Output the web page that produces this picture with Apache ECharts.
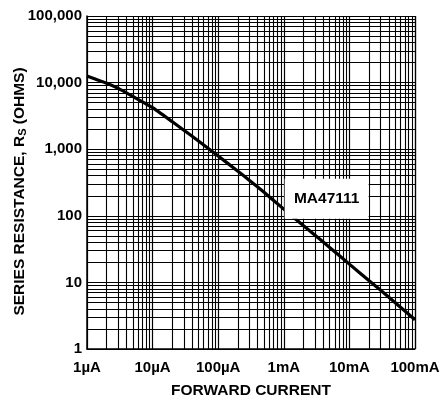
<!DOCTYPE html>
<html>
<head>
<meta charset="utf-8">
<script src="https://cdn.jsdelivr.net/npm/echarts@6/dist/echarts.min.js"></script>
<style>
html,body{margin:0;padding:0;background:#fff;}
#main{width:445px;height:398px;}
</style>
</head>
<body>
<div id="main"></div>
<script>
// forward current (A) vs series resistance (ohms)
var current = [1e-6, 2e-6, 3e-6, 5e-6, 1e-5, 2e-5, 3e-5, 5e-5, 1e-4, 2e-4, 3e-4, 5e-4,
               1e-3, 2e-3, 3e-3, 5e-3, 1e-2, 2e-2, 3e-2, 5e-2, 1e-1];
var resistance = [12600, 9800, 8200, 6200, 4200, 2580, 1930, 1330, 790, 467, 340, 226,
                  126, 71, 51, 33.5, 18.8, 10.6, 7.6, 4.95, 2.75];
var xTickLabels = ['1µA', '10µA', '100µA', '1mA', '10mA', '100mA'];
var yTickLabels = ['1', '10', '100', '1,000', '10,000', '100,000'];
var xDecades = [-6, -1];   // 1µA .. 100mA
var yDecades = [0, 5];     // 1 .. 100,000
var partName = 'MA47111';
var partPos = [4.5e-3, 180];

var FONT = '"Liberation Sans", Arial, Helvetica, sans-serif';

// log paper: lines at 2..9 in every decade
function minors(lo, hi) {
    var out = [];
    for (var d = lo; d < hi; d++) {
        for (var k = 2; k <= 9; k++) out.push(k * Math.pow(10, d));
    }
    return out;
}
var yMin = Math.pow(10, yDecades[0]), yMax = Math.pow(10, yDecades[1]);
var xMin = Math.pow(10, xDecades[0]), xMax = Math.pow(10, xDecades[1]);
var gridLines = [];
minors(xDecades[0], xDecades[1]).forEach(function (v) {
    gridLines.push({coords: [[v, yMin], [v, yMax]]});
});
minors(yDecades[0], yDecades[1]).forEach(function (v) {
    gridLines.push({coords: [[xMin, v], [xMax, v]]});
});

var labelStyle = {fontFamily: FONT, fontWeight: 'bold', fontSize: 15, color: '#000'};

var myChart = echarts.init(document.getElementById('main'));
var option = {
    animation: false,
    grid: {left: 87, right: 30, top: 16, bottom: 49, containLabel: false, outerBoundsMode: 'none'},
    xAxis: {
        type: 'log', logBase: 10, min: xMin, max: xMax,
        name: 'FORWARD CURRENT', nameLocation: 'middle', nameGap: 34, nameMoveOverlap: false,
        nameTextStyle: {fontFamily: FONT, fontWeight: 'bold', fontSize: 15.5, color: '#000'},
        axisLine: {lineStyle: {color: '#000', width: 1.5}},
        axisTick: {show: false},
        splitLine: {show: true, lineStyle: {color: '#000', width: 1.2}},
        axisLabel: Object.assign({
            margin: 11,
            formatter: function (v) {
                return xTickLabels[Math.round(Math.log10(v)) - xDecades[0]];
            }
        }, labelStyle)
    },
    yAxis: {
        type: 'log', logBase: 10, min: yMin, max: yMax,
        name: 'SERIES RESISTANCE, R{s|S} (OHMS)', nameLocation: 'middle', nameGap: 59, nameMoveOverlap: false,
        nameTextStyle: {
            fontFamily: FONT, fontWeight: 'bold', fontSize: 15.5, color: '#000',
            padding: [0, 18, 0, 0],
            rich: {s: {fontFamily: FONT, fontWeight: 'bold', fontSize: 11, color: '#000', verticalAlign: 'bottom', padding: [6, 0, 0, 0]}}
        },
        axisLine: {lineStyle: {color: '#000', width: 1.5}},
        axisTick: {show: false},
        splitLine: {show: true, lineStyle: {color: '#000', width: 1.2}},
        axisLabel: Object.assign({
            margin: 5,
            formatter: function (v) {
                return yTickLabels[Math.round(Math.log10(v)) - yDecades[0]];
            }
        }, labelStyle)
    },
    series: [{
        type: 'lines',
        coordinateSystem: 'cartesian2d',
        silent: true,
        data: gridLines,
        lineStyle: {color: '#000', width: 1.1, opacity: 1},
        z: 1
    }, {
        type: 'line',
        data: current.map(function (c, i) { return [c, resistance[i]]; }),
        showSymbol: false,
        smooth: 0.15,
        lineStyle: {color: '#000', width: 3.2},
        z: 5,
        markPoint: {
            silent: true,
            symbol: 'rect', symbolSize: [84, 40],
            itemStyle: {color: '#fff'},
            label: {show: true, formatter: partName, fontFamily: FONT, fontWeight: 'bold', fontSize: 15.5, color: '#000'},
            data: [{coord: partPos}],
            z: 10
        }
    }]
};
myChart.setOption(option);
</script>
</body>
</html>
